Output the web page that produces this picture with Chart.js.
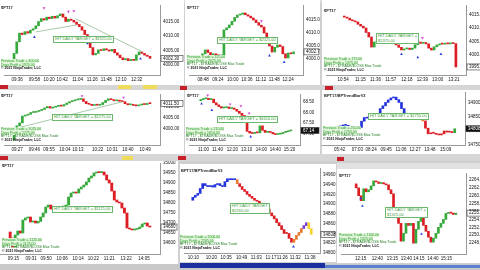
<!DOCTYPE html>
<html>
<head>
<meta charset="utf-8">
<script src="https://cdn.jsdelivr.net/npm/chart.js@4.4.0/dist/chart.umd.min.js"></script>
<style>
html, body { margin: 0; padding: 0; }
body { width: 480px; height: 270px; overflow: hidden; position: relative; background: #cfcfcf; font-family: "Liberation Sans", Arial, sans-serif; }
canvas { position: absolute; background: #fff; }
.bar { position: absolute; background: #d9d9d9; }
.ttl { position: absolute; font-size: 4px; font-weight: bold; color: #222; white-space: nowrap; }
.tgt { position: absolute; border: 1px solid #6cb86c; background: #fff; color: #3c9c3c; font-size: 4px; line-height: 4.6px; padding: 0 1px; white-space: nowrap; }
.info { position: absolute; font-size: 3.5px; line-height: 3.7px; white-space: nowrap; }
.info .g { color: #1f9a1f; background: #e3f5dc; }
.info .m { color: #1f7a1f; }
.info .k { color: #111; font-weight: bold; }
</style>
</head>
<body>
<script>
// ---- data ----
// each price list: first value is the open of the first bar, then one close per bar
const p1Times = ['09:36', '09:58', '10:20', '10:42', '11:04', '11:26', '11:48', '12:10', '12:32'];
const p1Price = [4000, 4004, 4008, 4011, 4010.5, 4011.5, 4011, 4012, 4012.5, 4013.5, 4015, 4016, 4015.5, 4016.5, 4016, 4016.8, 4016.2, 4017, 4017.6, 4016.5, 4015, 4015.8, 4015.4, 4014.8, 4014, 4013.2, 4012, 4010.5, 4008.6, 4006, 4003.5, 4004, 4005.2, 4005, 4005.6, 4005.2, 4004.8, 4005.4, 4004.2, 4003.4, 4002.5, 4001.8, 4002.2, 4001.5, 4001.9, 4001.6, 4003.5, 4004.5, 4004, 4003.4, 4003, 4002.3];
const p1Lines = [[{x: 8, y: 4011.4}, {x: 23, y: 4013.8}], [{x: 22.5, y: 4016}, {x: 47.3, y: 4004.5}]];
const p1Up = [{x: 7.5, y: 4009.6}, {x: 27, y: 4007.4}, {x: 46.5, y: 4002.2}];
const p1Down = [{x: 11, y: 4019.6}, {x: 20, y: 4018.4}, {x: 22, y: 4018.6}];

const p2Times = ['08:48', '09:24', '10:00', '10:36', '11:12', '11:48', '12:24'];
const p2Price = [4000.5, 4002, 4003.5, 4002.5, 4001.5, 4002, 4001.6, 4001.2, 4001.5, 4011.2, 4012, 4013.1, 4014.5, 4016, 4016.9, 4017.2, 4017.7, 4017, 4016.5, 4015.8, 4015, 4014, 4013, 4012.3, 4010, 4008.1, 4005, 4002.7, 4004.5, 4005.4, 4004.8, 4002, 4000.4, 4002.3, 4002, 4002.75];
const p2Up = [{x: 25, y: 4001.3}, {x: 30.5, y: 3998.8}];
const p2Down = [{x: 22, y: 4014.6}];

const p3Times = ['10:54', '11:15', '11:36', '11:57', '12:18', '12:39', '13:00', '13:21'];
const p3Price = [4014.6, 4014.2, 4013.8, 4013.1, 4012.8, 4012.4, 4011.5, 4010.8, 4010.1, 4008.4, 4006.7, 4002.9, 4004.8, 4005.2, 4005.6, 4006, 4006.3, 4005.5, 4004.8, 4004.2, 4003.7, 4002.8, 4001.8, 4002.2, 4002.5, 4002, 4002.5, 4003.8, 4004.8, 4004.3, 4004.6, 4004.1, 4002.5, 4001.8, 4003, 4003.7, 4004.1, 4004, 4004.3, 4004.1, 4004.5, 4004.2, 3995.4];
const p3Up = [{x: 21, y: 4000.2}, {x: 27, y: 3999}, {x: 35.5, y: 4000.2}];
const p3Down = [{x: 17, y: 4007.4}, {x: 28.7, y: 4006.4}];

const p4Times = ['09:27', '09:46', '09:55', '10:04', '10:13', '10:22', '10:31', '10:40', '10:49'];
const p4Price = [3995, 3998.5, 4001.5, 4002.8, 4005.9, 4006.3, 4006.7, 4007.5, 4007.6, 4008, 4008.4, 4008.9, 4009.6, 4010.2, 4009.5, 4009.9, 4010.3, 4010.7, 4010.4, 4011.1, 4011.8, 4012.4, 4012.8, 4013.2, 4013.4, 4013.7, 4012.5, 4011.5, 4011.2, 4010.7, 4011, 4010.8, 4011.1, 4012, 4013, 4013.7, 4013.3, 4012.8, 4013.1, 4012.6, 4012.4, 4011.5, 4011, 4011.1, 4010.7, 4010.5, 4010.9, 4011.3, 4011.1, 4011.6, 4011.5];
const p4Lines = [[{x: 1.7, y: 4000.7}, {x: 39.2, y: 4012.4}]];
const p4Down = [{x: 24.5, y: 4015}, {x: 39.5, y: 4014.3}];

const p5Times = ['11:00', '11:40', '12:20', '13:10', '14:00', '14:40', '15:20'];
const p5Price = [68.55, 68.6, 68.64, 68.66, 68.6, 68.62, 68.45, 68.35, 68.27, 68.2, 68.22, 68.25, 68.18, 68.2, 68.14, 68.05, 67.95, 67.85, 67.78, 67.1, 67.02, 67.0, 67.05, 67.03, 67.36, 67.15, 67.05, 67.08, 67.05, 66.98, 66.95, 66.97, 67.0, 67.05, 67.08, 67.12, 67.14];
const p5Up = [{x: 0.3, y: 68.4}, {x: 4.3, y: 68.1}, {x: 19.4, y: 66.85}];
const p5Down = [{x: 2.7, y: 68.8}, {x: 11.4, y: 68.38}, {x: 15.6, y: 68.3}, {x: 18.8, y: 67.95}];

const p6Times = ['05:42', '07:03', '08:24', '09:45', '11:06', '12:27', '13:48', '15:09'];
const p6Price = [34812, 34818, 34821, 34820, 34815, 34812, 34814, 34811, 34813, 34835, 34848, 34846, 34850, 34847, 34850, 34862, 34880, 34890, 34902, 34911, 34918, 34921, 34912, 34902, 34880, 34860, 34862, 34855, 34850, 34852, 34846, 34843, 34836, 34810, 34790, 34793, 34792, 34788, 34786, 34790, 34800, 34796, 34798, 34794, 34808];

const p7Times = ['09:15', '09:31', '09:50', '10:06', '10:14', '10:22', '11:21', '13:22', '14:05'];
const p7Price = [34655, 34625, 34580, 34640, 34660, 34650, 34715, 34725, 34730, 34705, 34710, 34700, 34708, 34730, 34750, 34780, 34790, 34770, 34765, 34775, 34770, 34780, 34785, 34790, 34830, 34850, 34855, 34850, 34870, 34880, 34890, 34905, 34925, 34935, 34950, 34955, 34952, 34955, 34940, 34915, 34900, 34860, 34815, 34805, 34800, 34775, 34750, 34675, 34670, 34665, 34668, 34672, 34680, 34695, 34700, 34685, 34680];

const p8Times = ['10:10', '10:20', '10:35', '10:49', '11:03', '11:17', '11:26', '11:32', '11:38'];
const p8Price = [34908, 34914, 34918, 34922, 34932, 34942, 34938, 34936, 34938, 34935, 34940, 34942, 34938, 34936, 34946, 34952, 34950, 34952, 34950, 34942, 34936, 34930, 34926, 34920, 34916, 34912, 34908, 34906, 34902, 34898, 34896, 34890, 34882, 34876, 34870, 34862, 34856, 34848, 34840, 34840, 34830, 34822, 34828, 34836, 34842, 34850, 34856, 34862, 34850, 34838];
const p8Up = [{x: 40.8, y: 34813}];

const p9Times = ['12:15', '12:40', '13:15', '13:40', '14:15', '14:40', '15:15'];
const p9Price = [2263, 2262, 2260, 2258.75, 2261.75, 2261, 2261.5, 2262.5, 2263.75, 2263.5, 2263.1, 2263.3, 2263, 2262.75, 2261.5, 2260.5, 2256.25, 2254.5, 2253, 2248.5, 2250.5, 2253, 2252.5, 2253, 2248, 2251.5, 2253.5, 2255.5, 2252.5, 2251, 2249.5, 2248.25, 2249.25, 2250.5, 2252, 2253, 2254, 2255.5, 2255.75, 2255.6, 2255.25, 2255.6];
const p9Up = [{x: 1.8, y: 2259.3}, {x: 2.5, y: 2257.4}, {x: 26.2, y: 2250.3}];
const p9Down = [{x: 25.2, y: 2255.2}];

// ---- look ----
const FONT = '"Liberation Sans", Arial, sans-serif';
const GREEN = '#36a93b', RED = '#dc1d24', BLUE = '#2233dd', ORANGE = '#e8792a';
const YELLOW = '#f2d22e', PURPLE = '#7a3fd0', GRAYBLUE = '#8b97c9';
Chart.defaults.font.family = FONT;

function candleColors(price, segs) {
    const out = [];
    for (let i = 0; i < price.length - 1; i++) {
        if (segs) {
            out.push(segs.find(s => i <= s[0])[1]);
        } else {
            out.push(price[i + 1] >= price[i] ? GREEN : RED);
        }
    }
    return out;
}

function makePanel(c) {
    const cv = document.createElement('canvas');
    const w = c.chartW + c.axisW;
    const h = c.padTop + c.chartH + c.xAxisH;
    cv.width = w;
    cv.height = h;
    cv.style.left = c.left + 'px';
    cv.style.top = c.top + 'px';
    cv.style.width = w + 'px';
    cv.style.height = h + 'px';
    document.body.appendChild(cv);

    const n = c.price.length - 1;
    const bodies = c.price.slice(1).map((v, i) => ({x: i, y: [c.price[i], v]}));
    const datasets = [{
        type: 'bar',
        data: bodies,
        backgroundColor: candleColors(c.price, c.segs),
        barThickness: c.barW || 2,
        minBarLength: 1,
        borderWidth: 0,
        order: 2
    }];
    (c.lines || []).forEach(l => datasets.push({
        type: 'line', data: l, borderColor: '#93bd93', borderWidth: 0.8, pointRadius: 0, order: 1
    }));
    if (c.up) datasets.push({
        type: 'scatter', data: c.up, pointStyle: 'triangle', pointRadius: 1.6,
        backgroundColor: '#2b3fe0', borderWidth: 0, order: 0
    });
    if (c.down) datasets.push({
        type: 'scatter', data: c.down, pointStyle: 'triangle', rotation: 180, pointRadius: 1.6,
        backgroundColor: '#d23fd0', borderWidth: 0, order: 0
    });

    new Chart(cv, {
        type: 'bar',
        data: {datasets: datasets},
        options: {
            responsive: false,
            animation: false,
            devicePixelRatio: 1,
            layout: {padding: {top: c.padTop, left: 0, right: 0, bottom: 0}},
            plugins: {legend: {display: false}, tooltip: {enabled: false}},
            scales: {
                x: {
                    type: 'linear',
                    min: -0.5 - (c.pad || 0),
                    max: n - 0.5,
                    grid: {display: false, tickLength: 0},
                    border: {color: '#9a9a9a'},
                    ticks: {
                        autoSkip: false, maxRotation: 0, padding: 2, color: '#111',
                        font: {size: 4.5},
                        callback: (v, i) => c.times[i]
                    },
                    afterBuildTicks: ax => { ax.ticks = c.tickAt.map(v => ({value: v})); },
                    afterFit: ax => { ax.height = c.xAxisH; ax.paddingLeft = 0; ax.paddingRight = 0; }
                },
                y: {
                    position: 'right',
                    min: c.min,
                    max: c.max,
                    grid: {display: false, tickLength: 0},
                    border: {color: '#9a9a9a'},
                    ticks: {
                        stepSize: c.step, padding: 3, color: '#111',
                        font: {size: 4.5},
                        callback: v => v.toFixed(c.dec)
                    },
                    afterBuildTicks: ax => {
                        ax.ticks = ax.ticks.filter(t => Math.abs(t.value / c.step - Math.round(t.value / c.step)) < 1e-6);
                    },
                    afterFit: ax => { ax.width = c.axisW; ax.paddingTop = 0; ax.paddingBottom = 0; }
                }
            }
        },
        plugins: [{
            id: 'lastPrice',
            afterDraw: (chart) => {
                const v = c.price[c.price.length - 1];
                const py = chart.scales.y.getPixelForValue(v);
                const x0 = chart.chartArea.right + 1;
                const ctx = chart.ctx;
                ctx.save();
                ctx.fillStyle = c.dark ? '#111' : '#fff';
                ctx.fillRect(x0, py - 3, c.axisW - 2, 6);
                ctx.strokeStyle = '#333';
                ctx.lineWidth = 0.6;
                ctx.strokeRect(x0, py - 3, c.axisW - 2, 6);
                ctx.fillStyle = c.dark ? '#fff' : '#111';
                ctx.font = '4.5px ' + FONT;
                ctx.textBaseline = 'middle';
                ctx.fillText(v.toFixed(c.dec), x0 + 2, py);
                ctx.restore();
            }
        }]
    });
}

function el(cls, x, y, html) {
    const d = document.createElement('div');
    d.className = cls;
    d.style.left = x + 'px';
    d.style.top = y + 'px';
    d.innerHTML = html;
    document.body.appendChild(d);
    return d;
}

function rect(x, y, w, h, color) {
    const d = el('bar', x, y, '');
    d.style.width = w + 'px';
    d.style.height = h + 'px';
    if (color) d.style.background = color;
}

// ---- window chrome ----
rect(0, 0, 480, 3, '#dcdcdc');
rect(118, 0, 13, 3, '#f0dc5a');
rect(143, 0, 14, 3, '#f0dc5a');

const panels = [
    {price: p1Price, times: p1Times, tickAt: [1.1, 7.5, 12.9, 17.7, 23.4, 28.8, 33.9, 39.3, 45.1],
     left: 0, top: 0, chartW: 160, axisW: 24, padTop: 5, chartH: 70, xAxisH: 10,
     min: 3996.55, max: 4020.69, step: 5, dec: 2, lines: p1Lines, up: p1Up, down: p1Down},
    {price: p2Price, times: p2Times, tickAt: [0.2, 5.7, 11.3, 16.6, 21.8, 26.8, 32], pad: 1.5,
     left: 185, top: 0, chartW: 118, axisW: 17, padTop: 5, chartH: 70, xAxisH: 10,
     min: 3993.85, max: 4020.77, step: 5, dec: 2, up: p2Up, down: p2Down},
    {price: p3Price, times: p3Times, tickAt: [-0.4, 5.9, 11.5, 17.1, 23, 28.7, 34.3, 40.3], pad: 3,
     left: 322, top: 0, chartW: 144, axisW: 24, padTop: 5, chartH: 70, xAxisH: 10,
     min: 3992.36, max: 4018.77, step: 5, dec: 2, up: p3Up, down: p3Down},
    {price: p4Price, times: p4Times, tickAt: [1.1, 7.3, 12.6, 18.3, 23, 30.1, 35.4, 41, 47.3],
     left: 0, top: 90, chartW: 160, axisW: 24, padTop: 2, chartH: 53, xAxisH: 9,
     min: 3992.83, max: 4015.87, step: 5, dec: 2, lines: p4Lines, down: p4Down},
    {price: p5Price, times: p5Times, tickAt: [1.07, 6.5, 12.3, 17.8, 23.6, 29, 34.5], pad: 1,
     left: 185, top: 90, chartW: 115, axisW: 20, padTop: 2, chartH: 53, xAxisH: 9,
     min: 66.455, max: 68.864, step: 0.5, dec: 2, up: p5Up, down: p5Down, dark: true},
    {price: p6Price, times: p6Times, tickAt: [-0.2, 6.4, 11.6, 17.2, 22.8, 28.1, 33.7, 39.6], pad: 3,
     left: 322, top: 90, chartW: 143, axisW: 24, padTop: 2, chartH: 53, xAxisH: 9,
     min: 34750, max: 34939.3, step: 50, dec: 0, dark: true,
     segs: [[24, BLUE], [27, GRAYBLUE], [31, ORANGE], [42, RED], [43, GREEN]]},
    {price: p7Price, times: p7Times, tickAt: [1.25, 8.25, 14.2, 20.5, 26.8, 32.75, 39, 45.7, 52.7],
     left: 0, top: 161, chartW: 160, axisW: 18, padTop: 2, chartH: 91, xAxisH: 10,
     min: 34545, max: 35000, step: 50, dec: 0, barW: 2.2},
    {price: p8Price, times: p8Times, tickAt: [0.2, 7.55, 13.5, 19.8, 25.75, 31.7, 36.25, 41.5, 47.5],
     left: 180, top: 164, chartW: 140, axisW: 16, padTop: 2, chartH: 87, xAxisH: 9,
     min: 34800, max: 34974, step: 20, dec: 0, up: p8Up,
     segs: [[17, BLUE], [18, ORANGE], [40, RED], [44, ORANGE], [46, PURPLE], [48, YELLOW]]},
    {price: p9Price, times: p9Times, tickAt: [1.8, 8.5, 14.5, 20.2, 25.2, 30.8, 36.2], pad: 2,
     left: 337, top: 169, chartW: 129, axisW: 24, padTop: 3, chartH: 82, xAxisH: 9,
     min: 2245.25, max: 2265.75, step: 2, dec: 2, up: p9Up, down: p9Down}
];
panels.forEach(makePanel);

// toolbars between the rows
rect(0, 85, 480, 5, '#d6d6d6');
rect(0, 85, 8, 4, '#c8202a');
rect(118, 85, 13, 4, '#f0dc5a');
rect(143, 85, 14, 4, '#f0dc5a');
rect(180, 86, 7, 4, '#c8202a');
rect(325, 86, 8, 4, '#c8202a');
rect(0, 154, 480, 7, '#d6d6d6');
rect(0, 156, 8, 4, '#c8202a');
rect(122, 156, 11, 4, '#f0dc5a');
rect(178, 156, 8, 4, '#c8202a');
rect(337, 157, 7, 4, '#c8202a');
rect(337, 163, 143, 6, '#e2e2e2');
rect(0, 264, 480, 6, '#c9c9c9');
rect(180, 263, 145, 5, '#1c2f9e');
rect(325, 265, 155, 3, '#5a7fd0');

// ---- texts over the charts ----
const titles = [
    [1, 5, '$PT17'], [187, 5, '$PT17'], [324, 8, '$PT17'],
    [1, 93, '$PT17'], [187, 93, '$PT17'], [324, 93, 'BPT17/BPTrendBarV3'],
    [2, 163, '$PT17'], [181, 168, 'BPT17/BPTrendBarV3'], [339, 173, '$PT17']
];
titles.forEach(t => el('ttl', t[0], t[1], t[2]));

const targets = [
    [53, 36, 'HIT DAILY TARGET = $1925.00'],
    [217, 37, 'HIT DAILY TARGET = $2025.00'],
    [376, 33, 'HIT DAILY TARGET =<br>$1375.00'],
    [52, 114, 'HIT DAILY TARGET = $1275.00'],
    [217, 116, 'HIT DAILY TARGET = $1610.00'],
    [368, 113, 'HIT DAILY TARGET = $1755.00'],
    [52, 206, 'HIT DAILY TARGET = $1125.00'],
    [230, 203, 'HIT DAILY TARGET<br>$2265.00'],
    [385, 207, 'HIT DAILY TARGET =<br>$1325.00']
];
targets.forEach(t => el('tgt', t[0], t[1], t[2]));

const infos = [
    [1, 60, ['Previous Trade = 400.00', 'Days Profit = 1925.00']],
    [187, 56, ['Previous Trade = 225.00', 'Days Profit = 2025.00', 'BPT17 - $TRADE/$LOSS Max Trade']],
    [324, 58, ['Previous Trade = 175.00', 'Days Profit = 1375.00', 'BPT17 - $TRADE/$LOSS Max Trade']],
    [1, 128, ['Previous Trade = 1025.00', 'Days Profit = 1275.00', 'BPT17 - $TRADE/$LOSS Max Trade']],
    [186, 128, ['Previous Trade = 210.00', 'Days Profit = 1610.00', 'BPT17 - $TRADE/$LOSS Max Trade']],
    [323, 127, ['Previous Trade = 250.00', 'Days Profit = 1755.00', 'BPT17 - $TRADE/$LOSS Max Trade']],
    [2, 239, ['Previous Trade = 1125.00', 'Days Profit = 1125.00', 'BPT17 - $TRADE/$LOSS Max Trade']],
    [180, 236, ['Previous Trade = 2000.00', 'Days Profit = 2265.00', 'BPT17 - $TRADE/$LOSS Max Trade']],
    [339, 234, ['Previous Trade = 1100.00', 'Days Profit = 1325.00', 'BPT17 - $TRADE/$LOSS Max Trade']]
];
infos.forEach(t => {
    const lines = t[2].map((s, k) => '<div><span class="' + (k < 2 ? 'g' : 'm') + '">' + s + '</span></div>');
    lines.push('<div class="k">© 2021 NinjaTrader, LLC</div>');
    el('info', t[0], t[1], lines.join(''));
});
</script>
</body>
</html>
